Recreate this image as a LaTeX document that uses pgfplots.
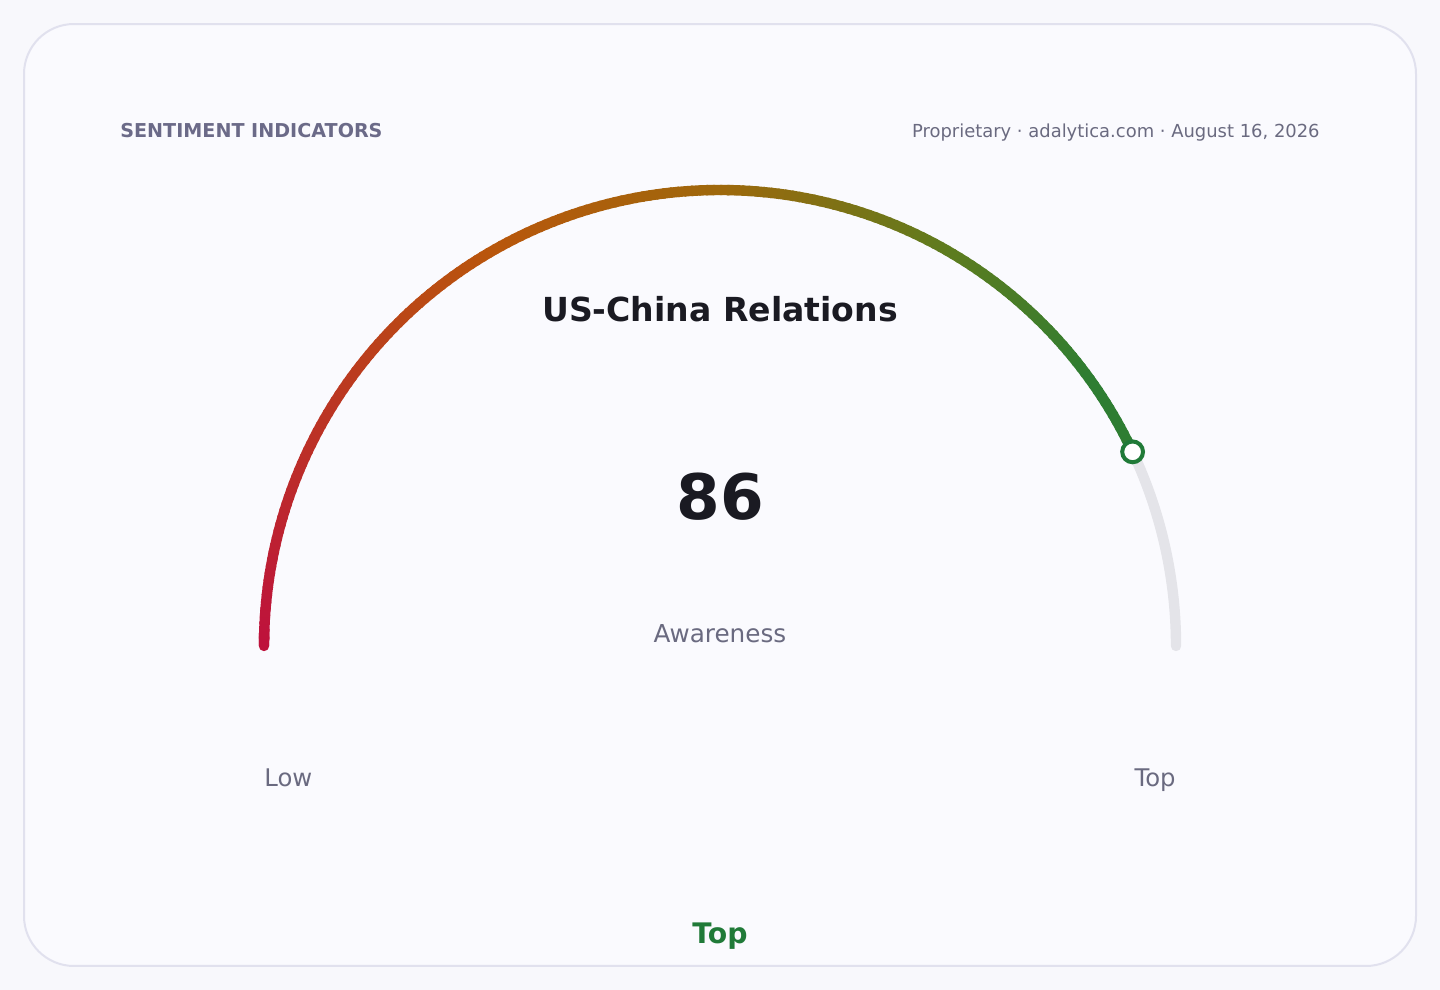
\documentclass[border=0pt]{standalone}
\usepackage{pgfplots}
\pgfplotsset{compat=1.18}
\usepackage{pgfplotstable}
\usepackage{fontspec}
\setmainfont{DejaVu Sans}
\definecolor{bgout}{HTML}{F8F8FC}
\definecolor{bgcard}{HTML}{FAFAFE}
\definecolor{cardline}{HTML}{E1E1EE}
\definecolor{hdr}{HTML}{6B6A88}
\definecolor{sub}{HTML}{6A6A80}
\definecolor{ink}{HTML}{1A1A22}
\definecolor{track}{HTML}{E4E4E9}
\definecolor{gA}{HTML}{BE123C}
\definecolor{gB}{HTML}{B9560C}
\definecolor{gC}{HTML}{9E680C}
\definecolor{gD}{HTML}{5C7C1F}
\definecolor{gE}{HTML}{2E7D32}
\definecolor{mk}{HTML}{207A38}
\pgfplotstableread{
k v
1 86
}\gauge
\newcommand\segcolor[1]{%
  \pgfmathsetmacro\ff{#1}%
  \ifdim\ff pt<0.33pt
    \pgfmathtruncatemacro\pp{100*\ff/0.33}\colorlet{segc}{gB!\pp!gA}%
  \else\ifdim\ff pt<0.5pt
    \pgfmathtruncatemacro\pp{100*(\ff-0.33)/0.17}\colorlet{segc}{gC!\pp!gB}%
  \else\ifdim\ff pt<0.67pt
    \pgfmathtruncatemacro\pp{100*(\ff-0.5)/0.17}\colorlet{segc}{gD!\pp!gC}%
  \else\ifdim\ff pt<0.8pt
    \pgfmathtruncatemacro\pp{100*(\ff-0.67)/0.13}\colorlet{segc}{gE!\pp!gD}%
  \else
    \colorlet{segc}{gE}%
  \fi\fi\fi\fi}
\begin{document}
\begin{tikzpicture}[every node/.style={inner sep=0pt}]
\begin{axis}[
  at={(0,0)}, anchor=south west,
  scale only axis, width=720bp, height=495bp,
  xmin=0, xmax=1440, ymin=0, ymax=990, y dir=reverse,
  hide axis, clip=false,
]
\fill[bgout] (axis cs:0,0) rectangle (axis cs:1440,990);
\draw[cardline, fill=bgcard, line width=1bp, rounded corners=25bp] (axis cs:24,24) rectangle (axis cs:1416,966);
\coordinate (C) at (axis cs:720,646);
\node[anchor=base west, font=\bfseries\fontsize{9.6}{12}\selectfont, text=hdr] at (axis cs:120,137) {SENTIMENT INDICATORS};
\node[anchor=base east, font=\fontsize{9.0}{12}\selectfont, text=sub] at (axis cs:1320,137) {Proprietary · adalytica.com · August 16, 2026};
\node[anchor=base, font=\bfseries\fontsize{16.6}{20}\selectfont, text=ink] at (axis cs:720,321) {US-China Relations};
\node[anchor=base, font=\bfseries\fontsize{31.5}{36}\selectfont, text=ink] at (axis cs:720,520) {86};
\node[anchor=base, font=\fontsize{12.4}{15}\selectfont, text=sub] at (axis cs:720,643) {Awareness};
\node[anchor=base west, font=\fontsize{12.2}{15}\selectfont, text=sub] at (axis cs:264,787) {Low};
\node[anchor=base east, font=\fontsize{12.2}{15}\selectfont, text=sub] at (axis cs:1176,787) {Top};
\node[anchor=base, font=\bfseries\fontsize{14.2}{18}\selectfont, text=mk] at (axis cs:720,944) {Top};
\end{axis}
% gauge track and gradient arc
\draw[track, line width=5.2bp, line cap=round] ([shift={(25.2:228bp)}]C) arc[start angle=25.2, end angle=0, radius=228bp];
\draw[gA, line width=5.2bp, line cap=round] ([shift={(180:228bp)}]C) arc[start angle=180, end angle=178, radius=228bp];
\foreach \i in {0,...,171}{%
  \pgfmathsetmacro\aa{180-0.9*\i}%
  \pgfmathsetmacro\ab{\aa-1.2}%
  \segcolor{(\i+0.5)*0.9/180}%
  \draw[segc, line width=5.2bp, line cap=butt] ([shift={(\aa:228bp)}]C) arc[start angle=\aa, end angle=\ab, radius=228bp];
}
\begin{axis}[
  at={(0,0)}, anchor=south west,
  scale only axis, width=720bp, height=495bp,
  xmin=0, xmax=1440, ymin=0, ymax=990, y dir=reverse,
  hide axis, clip=false,
]
\addplot[only marks, mark=*, mark size=5.2bp, mark options={fill=white, draw=mk, line width=2bp}]
  table[x expr={720+456*cos(180-1.8*\thisrow{v})}, y expr={646-456*sin(180-1.8*\thisrow{v})}] {\gauge};
\end{axis}
\end{tikzpicture}
\end{document}
